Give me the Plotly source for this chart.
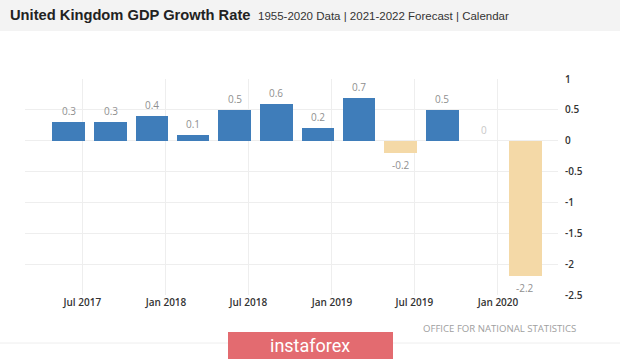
import plotly.graph_objects as go

# ---- data ----
quarters = ["2017-06-01", "2017-09-01", "2017-12-01", "2018-03-01", "2018-06-01", "2018-09-01",
            "2018-12-01", "2019-03-01", "2019-06-01", "2019-09-01", "2019-12-01", "2020-03-01"]
growth = [0.3, 0.3, 0.4, 0.1, 0.5, 0.6, 0.2, 0.7, -0.2, 0.5, 0, -2.2]
value_labels = ["0.3", "0.3", "0.4", "0.1", "0.5", "0.6", "0.2", "0.7", "-0.2", "0.5", "0", "-2.2"]
x_tick_dates = ["2017-07-01", "2018-01-01", "2018-07-01", "2019-01-01", "2019-07-01", "2020-01-01"]
x_tick_labels = ["Jul 2017", "Jan 2018", "Jul 2018", "Jan 2019", "Jul 2019", "Jan 2020"]
y_tick_vals = [1, 0.5, 0, -0.5, -1, -1.5, -2, -2.5]
y_tick_labels = ["1", "0.5", "0", "-0.5", "-1", "-1.5", "-2", "-2.5"]

W, H = 620, 361
ML, MR, MT, MB = 25, 62, 79, 66
PW, PH = W - ML - MR, H - MT - MB

def px2x(px):
    return (px - ML) / PW

def py2y(py):
    return (H - MB - py) / PH

BLUE = "#3f7dba"
TAN = "#f4d9a7"
colors = [BLUE if v > 0 else TAN for v in growth]

fig = go.Figure()
fig.add_trace(go.Bar(
    x=quarters, y=growth,
    marker=dict(color=colors, line=dict(width=0)),
    width=71.5 * 86400000,
    hoverinfo="skip",
))

annotations = []
for d, v, t in zip(quarters, growth, value_labels):
    annotations.append(dict(
        x=d, y=v, xref="x", yref="y", text=t, showarrow=False,
        yshift=11 if v >= 0 else -12,
        font=dict(family="Open Sans", size=10, color="#c8c8c8" if v == 0 else "#8f8f8f"),
    ))

annotations += [
    dict(x=px2x(8), y=py2y(15), xref="paper", yref="paper", xanchor="left", yanchor="middle",
         text="<b>United Kingdom GDP Growth Rate</b>", showarrow=False,
         font=dict(family="Liberation Sans", size=14.7, color="#222222")),
    dict(x=px2x(256), y=py2y(16), xref="paper", yref="paper", xanchor="left", yanchor="middle",
         text="1955-2020 Data | 2021-2022 Forecast | Calendar", showarrow=False,
         font=dict(family="Liberation Sans", size=11.5, color="#333333")),
    dict(x=px2x(578), y=py2y(328), xref="paper", yref="paper", xanchor="right", yanchor="middle",
         text="OFFICE FOR NATIONAL STATISTICS", showarrow=False,
         font=dict(family="Open Sans", size=9.6, color="#a0a0a0")),
    dict(x=px2x(310), y=py2y(345), xref="paper", yref="paper", xanchor="center", yanchor="middle",
         text="instaforex", showarrow=False,
         font=dict(family="Roboto", size=18, color="#ffffff")),
]

shapes = [
    dict(type="rect", xref="paper", yref="paper", x0=px2x(0), x1=px2x(W), y0=py2y(0), y1=py2y(31),
         fillcolor="#f3f3f3", line=dict(width=0), layer="below"),
    dict(type="line", xref="paper", yref="paper", x0=px2x(0), x1=px2x(W), y0=py2y(343), y1=py2y(343),
         line=dict(color="#eeeeee", width=1)),
    dict(type="rect", xref="paper", yref="paper", x0=px2x(228), x1=px2x(393), y0=py2y(332), y1=py2y(359),
         fillcolor="#e36b70", line=dict(width=0)),
]

fig.update_layout(
    width=W, height=H,
    margin=dict(l=ML, r=MR, t=MT, b=MB, pad=0),
    paper_bgcolor="white", plot_bgcolor="white",
    showlegend=False,
    annotations=annotations,
    shapes=shapes,
    bargap=0,
    xaxis=dict(
        type="date", range=["2017-02-25", "2020-05-12"],
        tickvals=x_tick_dates, ticktext=x_tick_labels,
        showgrid=True, gridcolor="#eeeeee", gridwidth=1,
        zeroline=False, showline=False, ticks="",
        tickfont=dict(family="Open Sans", size=10, color="#333333", weight=600),
        fixedrange=True,
    ),
    yaxis=dict(
        side="right", range=[-2.5, 1],
        tickvals=y_tick_vals, ticktext=y_tick_labels,
        showgrid=True, gridcolor="#eeeeee", gridwidth=1,
        zeroline=False, showline=False, ticks="",
        ticklabelstandoff=6,
        tickfont=dict(family="Open Sans", size=10, color="#333333", weight=600),
        fixedrange=True,
    ),
)

fig.write_html(
    "out.html",
    config={"displayModeBar": False},
    post_script="document.body.style.margin='0';document.body.style.overflow='hidden';",
)
